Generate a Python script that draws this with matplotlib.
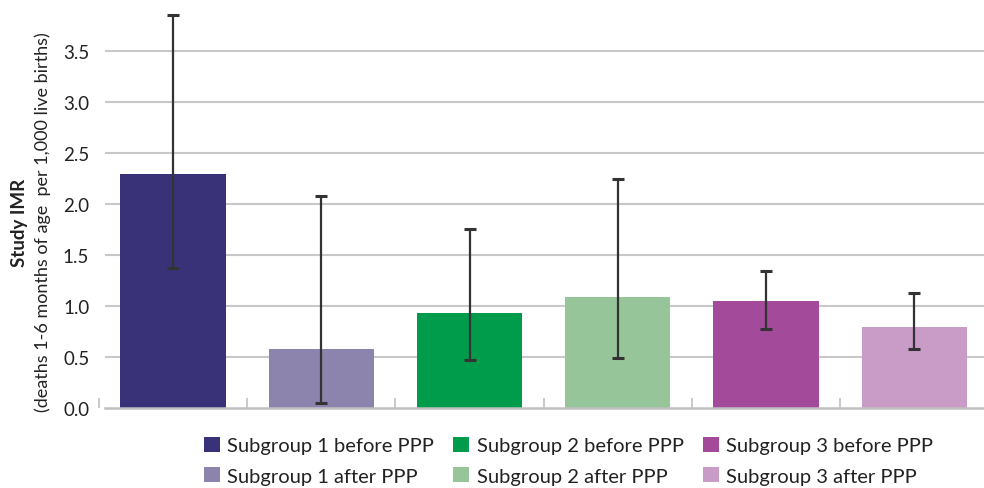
import matplotlib
matplotlib.use("Agg")
import matplotlib.pyplot as plt
import numpy as np

plt.rcParams["font.family"] = ["Lato", "DejaVu Sans"]

# data
labels = [
    "Subgroup 1 before PPP", "Subgroup 1 after PPP",
    "Subgroup 2 before PPP", "Subgroup 2 after PPP",
    "Subgroup 3 before PPP", "Subgroup 3 after PPP",
]
imr = [2.29, 0.57, 0.93, 1.08, 1.04, 0.79]
ci_low = [1.37, 0.04, 0.47, 0.49, 0.77, 0.57]
ci_high = [3.85, 2.07, 1.75, 2.24, 1.34, 1.12]
colors = ["#393279", "#8d84ad", "#009b4b", "#97c59a", "#a44a9b", "#c99bc7"]
yticks = [0.0, 0.5, 1.0, 1.5, 2.0, 2.5, 3.0, 3.5]

fig = plt.figure(figsize=(9.84, 4.89), dpi=100)
ax = fig.add_axes([0.1006, 0.1646, 0.8994, 0.8134])

x = np.arange(len(imr))
imr_a = np.array(imr)
yerr = np.vstack([imr_a - np.array(ci_low), np.array(ci_high) - imr_a])

# grid lines behind the bars
ax.hlines(yticks[1:], -0.46, 5.47, colors="#c8c8c8", linewidth=1.5, zorder=0)

bars = ax.bar(x, imr, width=0.71, color=colors, label=labels, zorder=2)
ax.errorbar(x, imr, yerr=yerr, fmt="none", ecolor="#333333", elinewidth=1.6,
            capsize=4.5, capthick=2.2, zorder=3)

ax.set_xlim(-0.5, 5.47)
ax.set_ylim(0, 3.9)
ax.set_yticks(yticks)
ax.set_yticklabels([f"{v:.1f}" for v in yticks], fontsize=13.5, color="#222222")
ax.tick_params(axis="y", length=0, pad=7)

# small inward ticks at category boundaries
ax.set_xticks(np.arange(-0.5, 5.0, 1.0))
ax.set_xticklabels([])
ax.tick_params(axis="x", direction="in", length=7, width=1.2, color="#c0c0c0")

for s in ["top", "right", "left"]:
    ax.spines[s].set_visible(False)
ax.spines["bottom"].set_color("#c0c0c0")
ax.spines["bottom"].set_linewidth(1.8)
ax.spines["bottom"].set_bounds(-0.46, 5.47)

fig.text(20 / 984, 1 - 223 / 489, "Study IMR", rotation=90, ha="center",
         va="center", fontsize=13.5, fontweight="bold", color="#222222")
fig.text(43 / 984, 1 - 222 / 489,
         "(deaths 1-6 months of age  per 1,000 live births)", rotation=90,
         ha="center", va="center", fontsize=13, color="#222222")

fig.legend(handles=list(bars), labels=labels, ncol=3, frameon=False,
           loc="upper left", bbox_to_anchor=(204 / 984, 1 - 438 / 489),
           borderpad=0, fontsize=14.5, handlelength=0.8, handleheight=0.75,
           handletextpad=0.36, columnspacing=0.95, labelspacing=0.64,
           borderaxespad=0, labelcolor="#222222")

fig.savefig("out.png", dpi=100)
